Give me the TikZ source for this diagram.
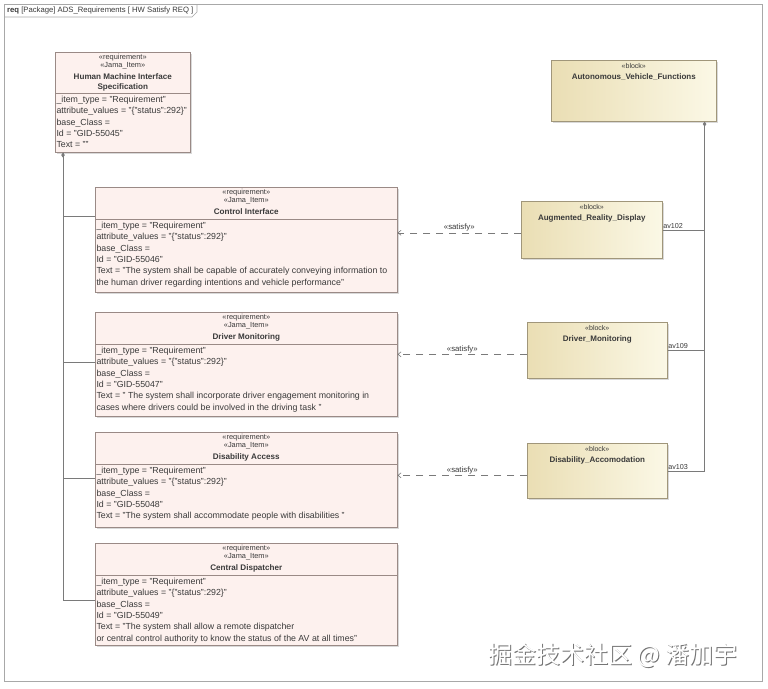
\documentclass[tikz,border=0pt]{standalone}
\usepackage{fontspec}
\setmainfont{Liberation Sans}
\newfontfamily\cjkfont{Noto Sans CJK SC}
\usetikzlibrary{arrows.meta,shadows,calc}
\definecolor{reqfill}{HTML}{FDF1EE}
\definecolor{reqborder}{HTML}{9A8A86}
\definecolor{blockborder}{HTML}{A0967A}
\definecolor{blockA}{HTML}{EADEB4}
\definecolor{blockB}{HTML}{FBF8E6}
\definecolor{txt}{HTML}{3A3A3A}
\definecolor{linegray}{HTML}{7A7A7A}
\definecolor{framegray}{HTML}{A8A8A8}
\tikzset{
  reqbox/.style={rectangle, draw=reqborder, fill=reqfill, line width=0.6pt, inner sep=0,
    drop shadow={shadow xshift=1.5pt, shadow yshift=-1.5pt, fill=black, opacity=0.15}},
  blockbox/.style={rectangle, draw=blockborder, line width=0.6pt, inner sep=0,
    left color=blockA, right color=blockB,
    drop shadow={shadow xshift=1.5pt, shadow yshift=-1.5pt, fill=black, opacity=0.15}},
  stereo/.style={font=\fontsize{7.4}{7}\selectfont, inner sep=0, text=txt},
  rname/.style={font=\bfseries\fontsize{8.1}{10}\selectfont, align=center, inner sep=0, text=txt, anchor=north},
  attr/.style={font=\fontsize{8.8}{11.35}\selectfont, align=left, inner sep=0, anchor=north west, text=txt},
  sep/.style={draw=reqborder, line width=0.6pt},
  tree/.style={draw=linegray, line width=0.6pt},
  satisfy/.style={draw=linegray, line width=0.6pt, dash pattern=on 7pt off 6pt, -{Straight Barb[length=3pt,width=5pt]}},
  satlabel/.style={font=\fontsize{7.8}{8}\selectfont, inner sep=1pt, text=txt},
  portlabel/.style={font=\fontsize{7.2}{8}\selectfont, inner sep=0.5pt, text=txt},
  comp/.style={{Diamond[length=5pt,width=3.5pt,fill=linegray]}-},
}
\newcommand\ReqBox[8]{%
  \node[reqbox, minimum width=#4pt, minimum height=#5pt, anchor=north west] (#1) at (#2,#3) {};
  \node[stereo] (#1-s1) at ([yshift=-5.5pt]#1.north) {«requirement»};
  \node[stereo] (#1-s2) at ([yshift=-13.5pt]#1.north) {«Jama\_Item»};
  \node[rname] (#1-n) at ([yshift=-21pt]#1.north) {#6};
  \coordinate (#1-sep) at ([yshift=-#8pt]#1.north west);
  \draw[sep] (#1-sep) -- (#1-sep -| #1.east);
  \node[attr] (#1-a) at ([xshift=1.3pt,yshift=-2.8pt]#1-sep) {#7};
}
\newcommand\BlockBox[6]{%
  \node[blockbox, minimum width=#4pt, minimum height=#5pt, anchor=north west] (#1) at (#2,#3) {};
  \node[stereo, font=\fontsize{7}{7}\selectfont] (#1-s) at ([yshift=-6pt]#1.north) {«block»};
  \node[rname, font=\bfseries\fontsize{8}{10}\selectfont] (#1-n) at ([yshift=-13.5pt]#1.north) {#6};
}
\begin{document}
\begin{tikzpicture}[x=1pt,y=-1pt]
\useasboundingbox (0,0) rectangle (768,688);
\fill[white] (0,0) rectangle (768,688);
% frame
\draw[framegray, line width=0.6pt] (4,4) rectangle (762,681);
\draw[framegray, line width=0.6pt] (4,17) -- (192,17) -- (197,12) -- (197,4);
\node[anchor=west, inner sep=0, font=\fontsize{7.7}{8}\selectfont, text=txt] (tab) at (7,10.5)
  {\textbf{req} [Package] ADS\_Requirements [ HW Satisfy REQ ]};

% requirements
\ReqBox{hmi}{55}{52}{135}{100}{Human Machine Interface\\Specification}
  {\_item\_type = "Requirement"\\attribute\_values = "\{"status":292\}"\\base\_Class =\\Id = "GID-55045"\\Text = ""}{41}
\ReqBox{ci}{95}{187}{302}{105}{Control Interface}
  {\_item\_type = "Requirement"\\attribute\_values = "\{"status":292\}"\\base\_Class =\\Id = "GID-55046"\\Text = "The system shall be capable of accurately conveying information to\\the human driver regarding intentions and vehicle performance"}{32}
\ReqBox{dm}{95}{312}{302}{104}{Driver Monitoring}
  {\_item\_type = "Requirement"\\attribute\_values = "\{"status":292\}"\\base\_Class =\\Id = "GID-55047"\\Text = " The system shall incorporate driver engagement monitoring in\\cases where drivers could be involved in the driving task "}{32}
\ReqBox{da}{95}{432}{302}{95}{Disability Access}
  {\_item\_type = "Requirement"\\attribute\_values = "\{"status":292\}"\\base\_Class =\\Id = "GID-55048"\\Text = "The system shall accommodate people with disabilities "}{32}
\ReqBox{cd}{95}{543}{302}{102}{Central Dispatcher}
  {\_item\_type = "Requirement"\\attribute\_values = "\{"status":292\}"\\base\_Class =\\Id = "GID-55049"\\Text = "The system shall allow a remote dispatcher\\or central control authority to know the status of the AV at all times"}{32}

% blocks
\BlockBox{avf}{551}{60}{165}{61}{Autonomous\_Vehicle\_Functions}
\BlockBox{ard}{521}{201}{141}{57}{Augmented\_Reality\_Display}
\BlockBox{dmb}{527}{322}{140}{56}{Driver\_Monitoring}
\BlockBox{dac}{527}{443}{140}{55}{Disability\_Accomodation}

% containment tree (left)
\coordinate (hmiport) at ([xshift=8pt]hmi.south west);
\draw[tree, comp] (hmiport) |- ([yshift=-57pt]cd.north west);
\draw[tree] (hmiport) |- ([yshift=-29pt]ci.north west);
\draw[tree] (hmiport) |- ([yshift=-50pt]dm.north west);
\draw[tree] (hmiport) |- ([yshift=-46pt]da.north west);

% part tree (right)
\coordinate (avfport) at ([xshift=-12pt]avf.south east);
\draw[tree, comp] (avfport) |- (dac.east);
\draw[tree] (avfport) |- (ard.east);
\draw[tree] (avfport) |- (dmb.east);
\node[portlabel, anchor=south west] (p1) at ([yshift=1pt]ard.east) {av102};
\node[portlabel, anchor=south west] (p2) at ([yshift=1pt]dmb.east) {av109};
\node[portlabel, anchor=south west] (p3) at ([yshift=1pt]dac.east) {av103};

% satisfy
\draw[satisfy] ([yshift=-3pt]ard.west) -- node[satlabel, above, pos=0.5] (s1) {«satisfy»} ([yshift=-3pt]ard.west -| ci.east);
\draw[satisfy] ([yshift=-4pt]dmb.west) -- node[satlabel, above, pos=0.5] (s2) {«satisfy»} ([yshift=-4pt]dmb.west -| dm.east);
\draw[satisfy] ([yshift=-4.5pt]dac.west) -- node[satlabel, above, pos=0.5] (s3) {«satisfy»} ([yshift=-4.5pt]dac.west -| da.east);

% watermark
\node[anchor=west, inner sep=0, font=\cjkfont\fontsize{24}{24}\selectfont, text=black!55] (wmshadow) at (489.3,656.3) {掘金技术社区 @ 潘加宇};
\node[anchor=west, inner sep=0, font=\cjkfont\fontsize{24}{24}\selectfont, text=white] (wm) at (488,655) {掘金技术社区 @ 潘加宇};
\end{tikzpicture}
\end{document}
